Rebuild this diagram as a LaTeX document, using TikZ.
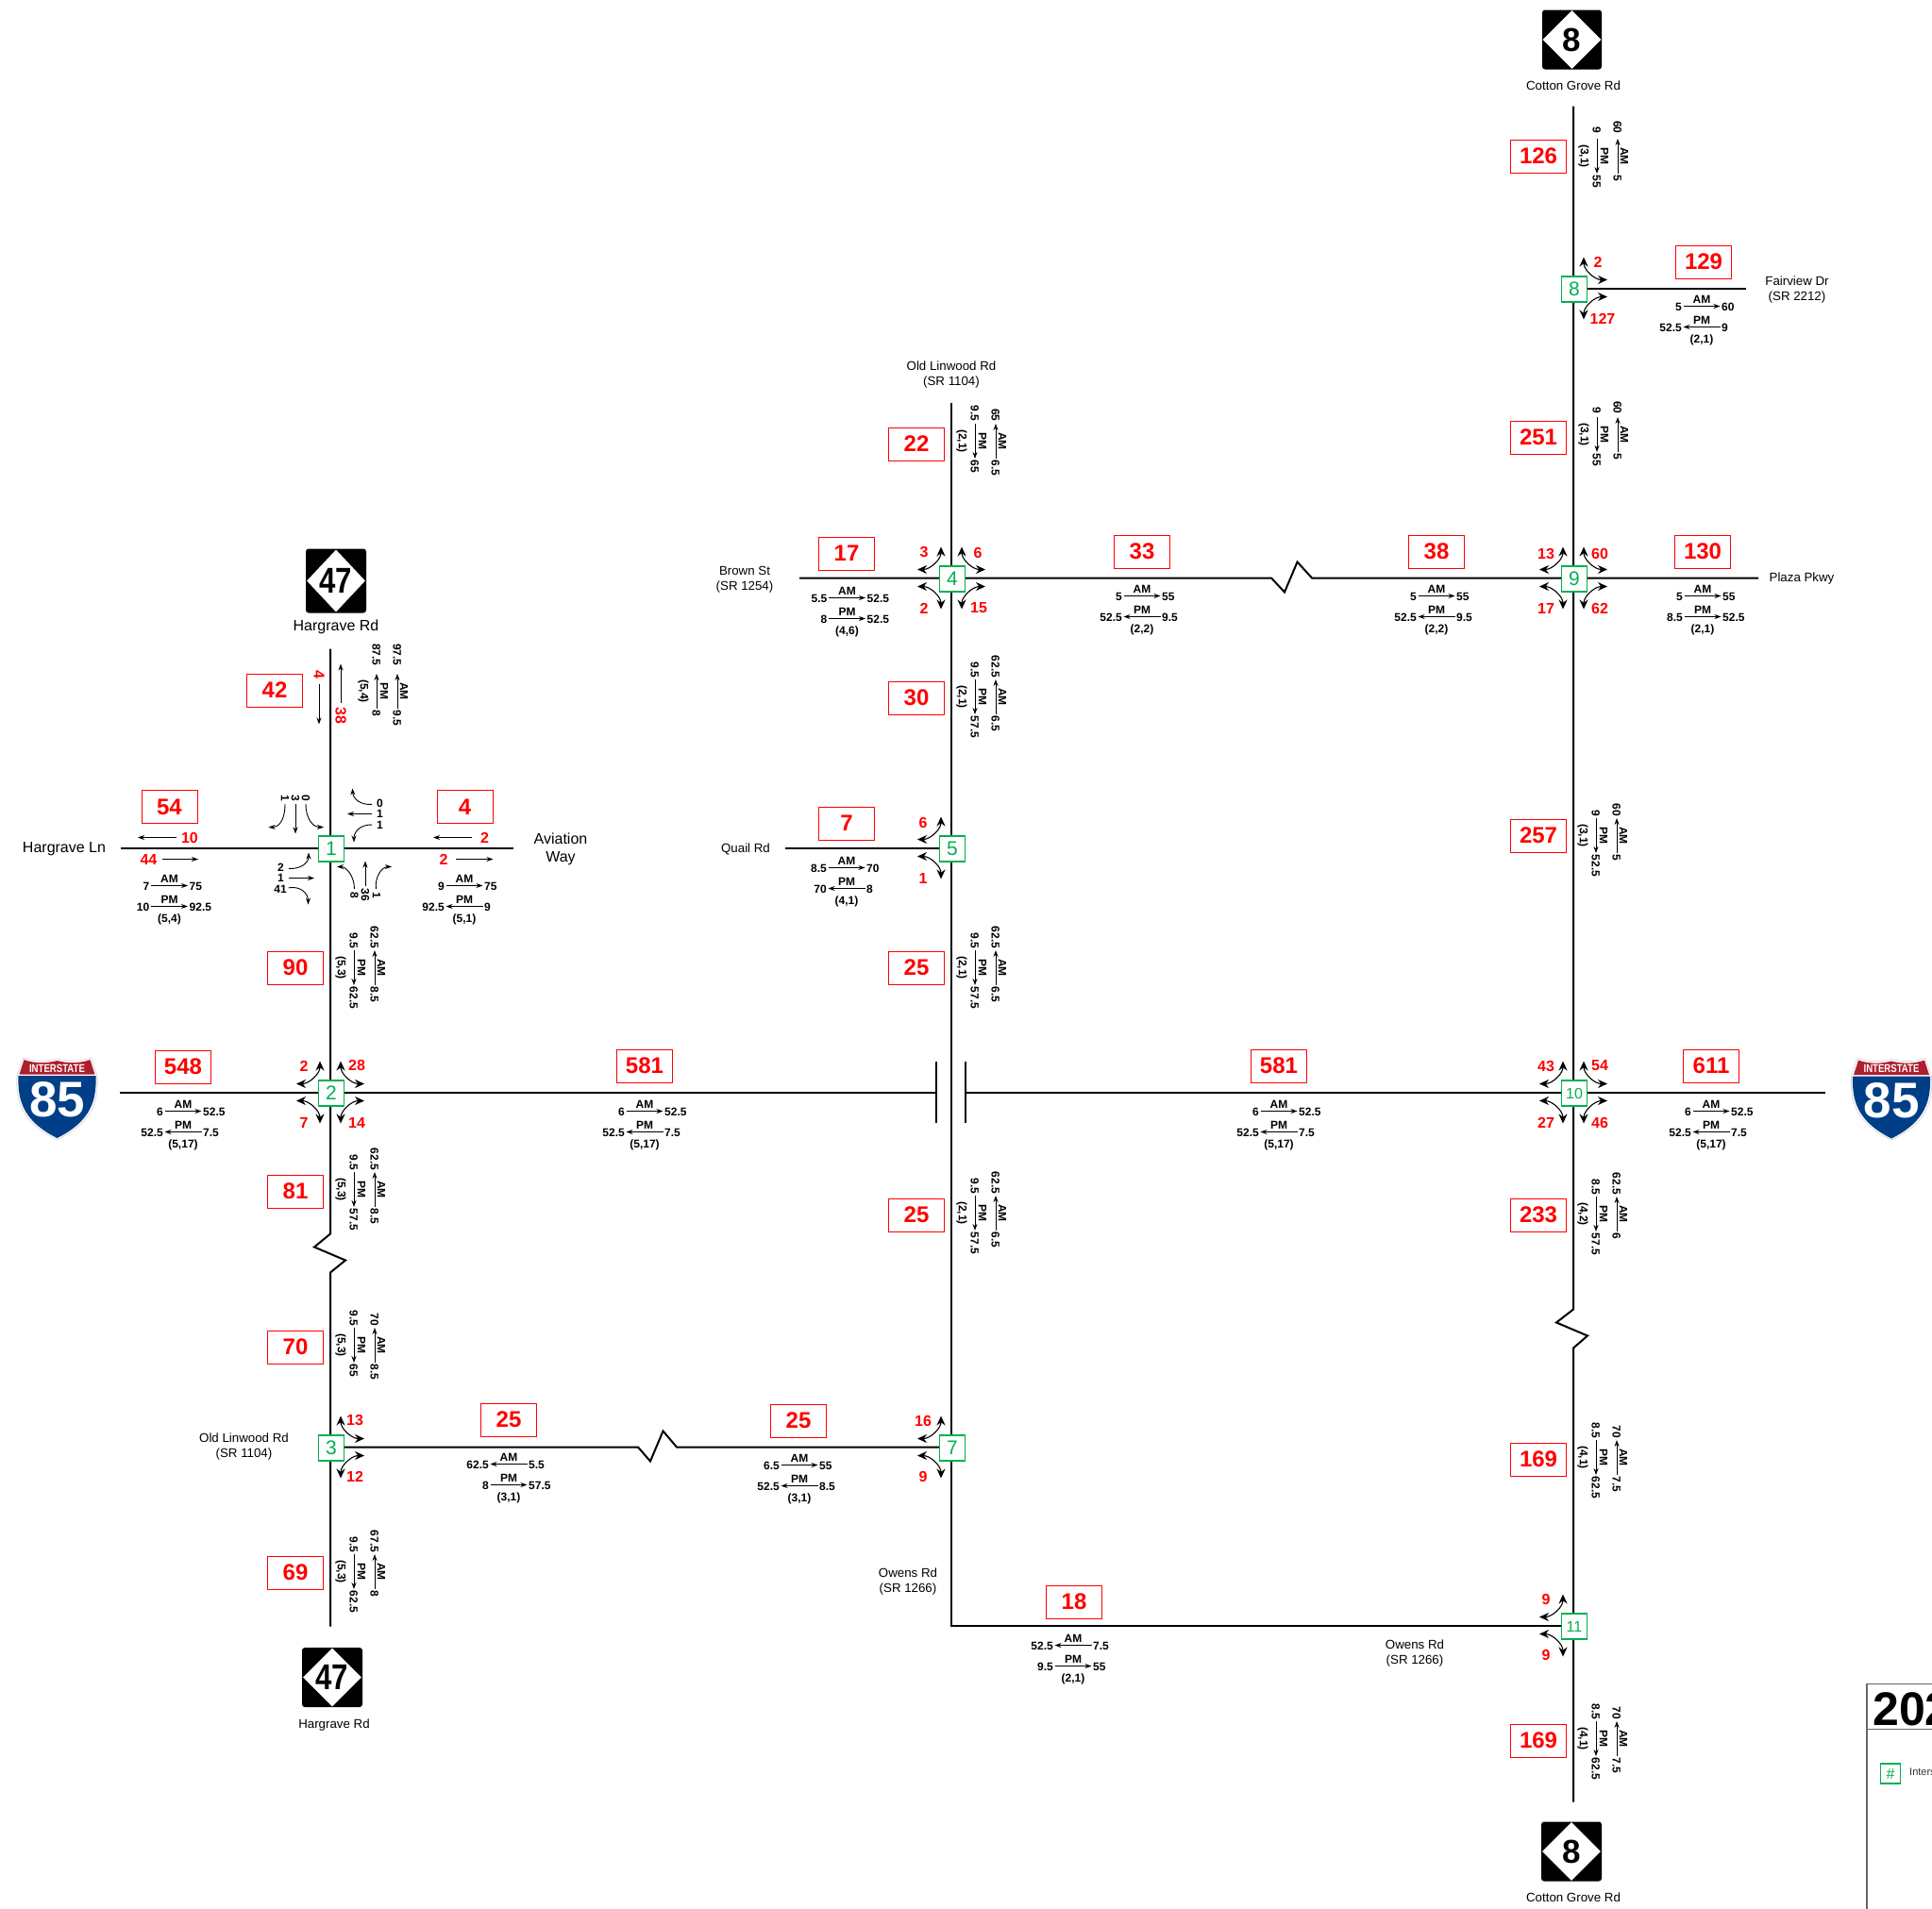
\documentclass[tikz,border=0pt]{standalone}
\usepackage{fontspec}
\setmainfont{Liberation Sans}
\usepackage{xcolor}
\usepackage{tikz}
\usetikzlibrary{arrows.meta,backgrounds,shapes.geometric}
\definecolor{cRed}{HTML}{FF0000}
\definecolor{cGreen}{HTML}{00B050}
\definecolor{cBlue}{HTML}{003F87}
\definecolor{cShield}{HTML}{AF1E2D}
\newcommand\fsz[2]{\fontsize{#1}{#2}\selectfont}
\tikzset{
  road/.style={line width=2pt, line join=miter},
  rbox/.style={draw=cRed, line width=1pt, fill=white, text=cRed, minimum width=59pt,
               minimum height=35pt, inner sep=0pt, font=\fsz{24}{26}\bfseries},
  nbox/.style={draw=cGreen, line width=1.4pt, fill=white, text=cGreen, minimum size=27pt,
               inner sep=0pt, font=\fsz{21}{23}},
  rlab/.style={text=cRed, inner sep=0pt, font=\fsz{16}{18}\bfseries},
  vnum/.style={inner sep=1.5pt, text height=9pt, text depth=0pt, font=\fsz{12}{14}\bfseries},
  vlab/.style={inner sep=0pt, font=\fsz{12}{14}\bfseries},
  vtop/.style={},
  tnum/.style={inner sep=0pt, outer sep=3pt, font=\fsz{12}{14}\bfseries},
  vol/.style={line width=.9pt, >={Stealth[length=7pt,width=5pt]}},
  mov/.style={line width=.9pt, -{Stealth[length=7pt,width=5pt]}},
  turn/.style={line width=1.1pt, {Stealth[length=10pt,width=9pt]}-{Stealth[length=10pt,width=9pt]}},
  rname/.style={align=center, inner sep=0pt, font=\fsz{13.3}{16}},
  rnameL/.style={align=center, inner sep=0pt, font=\fsz{16}{18.5}},
  hwybox/.style={fill=black, rounded corners=3pt, inner sep=0pt},
  hwydia/.style={diamond, fill=white, inner sep=0pt, font=\bfseries}
}
\newcommand\hvol[9]{%
  \begin{scope}[shift={#2}]
    \node[vlab] (#1am) at (0,-7) {AM};
    \node[vnum,anchor=east] (#1a) at (-19.5,0) {#3};
    \node[vnum,anchor=west] (#1b) at (19.5,0) {#5};
    \draw[vol,#4] (#1a) -- (#1b);
    \node[vlab] (#1pm) at (0,14.5) {PM};
    \node[vnum,anchor=east] (#1c) at (-19.5,22) {#6};
    \node[vnum,anchor=west] (#1d) at (19.5,22) {#8};
    \draw[vol,#7] (#1c) -- (#1d);
    \node[vlab] (#1ps) at (0,35.5) {#9};
  \end{scope}}
\newcommand\vvol[9]{%
  \begin{scope}[shift={#2}]
    \node[vlab,rotate=-90] (#1am) at (54,0) {AM};
    \node[vnum,vtop,rotate=-90,anchor=east] (#1a) at (47,-18.5) {#3};
    \node[vnum,rotate=-90,anchor=west] (#1b) at (47,18.5) {#5};
    \draw[vol,#4] (#1a) -- (#1b);
    \node[vlab,rotate=-90] (#1pm) at (33,0) {PM};
    \node[vnum,vtop,rotate=-90,anchor=east] (#1c) at (25,-18.5) {#6};
    \node[vnum,rotate=-90,anchor=west] (#1d) at (25,18.5) {#8};
    \draw[vol,#7] (#1c) -- (#1d);
    \node[vlab,rotate=-90] (#1ps) at (11,0) {#9};
  \end{scope}}
\newcommand\turnarc[3]{%
  \begin{scope}[shift={(#1)},xscale=#2,yscale=#3]
    \coordinate (ta) at (11,33); \coordinate (tb) at (36,9);
    \draw[turn] (ta) .. controls (11,19.5) and (22.5,9) .. (tb);
  \end{scope}}
\newcommand\ishield[2]{%
  \begin{scope}[shift={#2}]
    \fill[white,draw=black!15,line width=.8pt] (-36,-43) .. controls (-24,-39) and (-12,-39) .. (0,-42) .. controls (12,-39) and (24,-39) .. (36,-43)
      -- (42.5,-24) .. controls (44,4) and (37,26) .. (0,43.5) .. controls (-37,26) and (-44,4) .. (-42.5,-24) -- cycle;
    \fill[cBlue] (-41,-24) -- (41,-24) .. controls (42,2) and (36,24) .. (0,42) .. controls (-36,24) and (-42,2) .. (-41,-24) -- cycle;
    \fill[cShield] (-35,-41) .. controls (-24,-37) and (-12,-37) .. (0,-40) .. controls (12,-37) and (24,-37) .. (35,-41) -- (40,-25.5) -- (-40,-25.5) -- cycle;
    \node[text=white,inner sep=0pt,font=\fsz{12}{13}\bfseries] (#1t) at (0,-32) {\scalebox{.8}[1]{INTERSTATE}};
    \node[text=white,inner sep=0pt,font=\fsz{53}{55}\bfseries] (#1n) at (0,1.5) {85};
  \end{scope}}

\begin{document}
\begin{tikzpicture}[x=1pt,y=-1pt]
\path[clip,use as bounding box] (0,-.5) rectangle (2047,2021.5);
\coordinate (j1) at (350,898); \coordinate (j2) at (350,1157); \coordinate (j3) at (350,1533);
\coordinate (j4) at (1008,612); \coordinate (j5) at (1008,898); \coordinate (j7) at (1008,1533);
\coordinate (j8) at (1667,305); \coordinate (j9) at (1667,612); \coordinate (j10) at (1667,1157); \coordinate (j11) at (1667,1722);
\node[nbox] (n1) at (351,899) {1};
\node[nbox] (n2) at (351,1158) {2};
\node[nbox] (n3) at (351,1534) {3};
\node[nbox] (n4) at (1009,613) {4};
\node[nbox] (n5) at (1009,899) {5};
\node[nbox] (n7) at (1009,1534) {7};
\node[nbox] (n8) at (1668,306) {8};
\node[nbox] (n9) at (1668,613) {9};
\node[nbox,font=\fsz{16}{18}] (n10) at (1668,1158) {10};
\node[nbox,font=\fsz{16}{18}] (n11) at (1668,1723) {11};
\coordinate (aT) at (350,687); \coordinate (aB) at (350,1723);
\coordinate (aZ1) at (350,1307); \coordinate (aZ2) at (333,1321); \coordinate (aZ3) at (366,1335); \coordinate (aZ4) at (350,1348);
\coordinate (bT) at (1008,426); \coordinate (bC) at (1008,1722);
\coordinate (cT) at (1667,112); \coordinate (cB) at (1667,1909);
\coordinate (cZ1) at (1667,1387); \coordinate (cZ2) at (1649,1401); \coordinate (cZ3) at (1682,1415); \coordinate (cZ4) at (1667,1428);
\coordinate (hgW) at (128,898); \coordinate (hgE) at (544,898);
\coordinate (quW) at (832,898); \coordinate (faE) at (1850,305);
\coordinate (brW) at (847,612); \coordinate (plE) at (1863,612);
\coordinate (brZ1) at (1347,612); \coordinate (brZ2) at (1361,627); \coordinate (brZ3) at (1374.5,595); \coordinate (brZ4) at (1390,612);
\coordinate (oldZ1) at (676,1533); \coordinate (oldZ2) at (689,1548); \coordinate (oldZ3) at (702.5,1516); \coordinate (oldZ4) at (717,1533);
\coordinate (iW) at (127,1157); \coordinate (iE) at (1934,1157);
\coordinate (iL) at (992,1157); \coordinate (iR) at (1023,1157);
\coordinate (iLt) at (992,1124); \coordinate (iLb) at (992,1189); \coordinate (iRt) at (1023,1124); \coordinate (iRb) at (1023,1189);
\begin{scope}[on background layer]
\draw[road](aT)--(j1)--(j2)--(aZ1)--(aZ2)--(aZ3)--(aZ4)--(j3)--(aB);
\draw[road](bT)--(j4)--(j5)--(j7)--(bC)--(j11);
\draw[road](cT)--(j8)--(j9)--(j10)--(cZ1)--(cZ2)--(cZ3)--(cZ4)--(j11)--(cB);
\draw[road](hgW)--(j1)--(hgE);\draw[road](quW)--(j5);\draw[road](j8)--(faE);
\draw[road](brW)--(j4)--(brZ1)--(brZ2)--(brZ3)--(brZ4)--(j9)--(plE);
\draw[road](j3)--(oldZ1)--(oldZ2)--(oldZ3)--(oldZ4)--(j7);
\draw[road](iW)--(j2)--(iL);\draw[road](iR)--(j10)--(iE);
\draw[road](iLt)--(iLb);\draw[road](iRt)--(iRb);
\end{scope}
\node[rbox] (b126) at (1630,165) {126};
\node[rbox] (b129) at (1805,277) {129};
\node[rbox] (b22) at (971,470) {22};
\node[rbox] (b251) at (1630,463) {251};
\node[rbox] (b17) at (897,586) {17};
\node[rbox] (b33) at (1210,584) {33};
\node[rbox] (b38) at (1522,584) {38};
\node[rbox] (b130) at (1804,584) {130};
\node[rbox] (b30) at (971,739) {30};
\node[rbox] (b42) at (291,731) {42};
\node[rbox] (b54) at (179.5,854.5) {54};
\node[rbox] (b4) at (492.5,854.5) {4};
\node[rbox] (b7) at (897,872) {7};
\node[rbox] (b257) at (1630,885) {257};
\node[rbox] (b90) at (313,1025) {90};
\node[rbox] (b25a) at (971,1025) {25};
\node[rbox] (b548) at (194,1130) {548};
\node[rbox] (b581a) at (683,1129) {581};
\node[rbox] (b581b) at (1355,1129) {581};
\node[rbox] (b611) at (1813,1129) {611};
\node[rbox] (b81) at (313,1262) {81};
\node[rbox] (b25b) at (971,1287) {25};
\node[rbox] (b233) at (1630,1287) {233};
\node[rbox] (b70) at (313,1427) {70};
\node[rbox] (b25c) at (539,1504) {25};
\node[rbox] (b25d) at (846,1505) {25};
\node[rbox] (b169a) at (1630,1546) {169};
\node[rbox] (b18) at (1138,1697) {18};
\node[rbox] (b69) at (313,1666) {69};
\node[rbox] (b169b) at (1630,1844) {169};
\hvol{v54}{(179.5,938)}{7}{->}{75}{10}{->}{92.5}{(5,4)}
\hvol{v4}{(492,938)}{9}{->}{75}{92.5}{<-}{9}{(5,1)}
\hvol{v548}{(194,1177)}{6}{->}{52.5}{52.5}{<-}{7.5}{(5,17)}
\hvol{v581a}{(683,1177)}{6}{->}{52.5}{52.5}{<-}{7.5}{(5,17)}
\hvol{v581b}{(1355,1177)}{6}{->}{52.5}{52.5}{<-}{7.5}{(5,17)}
\hvol{v611}{(1813,1177)}{6}{->}{52.5}{52.5}{<-}{7.5}{(5,17)}
\hvol{v17}{(897.5,633)}{5.5}{->}{52.5}{8}{->}{52.5}{(4,6)}
\hvol{v33}{(1210,631)}{5}{->}{55}{52.5}{<-}{9.5}{(2,2)}
\hvol{v38}{(1522,631)}{5}{->}{55}{52.5}{<-}{9.5}{(2,2)}
\hvol{v130}{(1804,631)}{5}{->}{55}{8.5}{->}{52.5}{(2,1)}
\hvol{v129}{(1803,324)}{5}{->}{60}{52.5}{<-}{9}{(2,1)}
\hvol{v7}{(897,919)}{8.5}{->}{70}{70}{<-}{8}{(4,1)}
\hvol{v25c}{(539,1551)}{62.5}{<-}{5.5}{8}{->}{57.5}{(3,1)}
\hvol{v25d}{(847,1552)}{6.5}{->}{55}{52.5}{<-}{8.5}{(3,1)}
\hvol{v18}{(1137,1743)}{52.5}{<-}{7.5}{9.5}{->}{55}{(2,1)}
\vvol{v257}{(1666,885)}{60}{<-}{5}{9}{->}{52.5}{(3,1)}
\vvol{v233}{(1666,1286)}{62.5}{<-}{6}{8.5}{->}{57.5}{(4,2)}
\vvol{v169a}{(1666,1544)}{70}{<-}{7.5}{8.5}{->}{62.5}{(4,1)}
\vvol{v169b}{(1666,1842)}{70}{<-}{7.5}{8.5}{->}{62.5}{(4,1)}
\vvol{v30}{(1008,738)}{62.5}{<-}{6.5}{9.5}{->}{57.5}{(2,1)}
\vvol{v25a}{(1008,1025)}{62.5}{<-}{6.5}{9.5}{->}{57.5}{(2,1)}
\vvol{v25b}{(1008,1285)}{62.5}{<-}{6.5}{9.5}{->}{57.5}{(2,1)}
\vvol{v90}{(350,1025)}{62.5}{<-}{8.5}{9.5}{->}{62.5}{(5,3)}
\vvol{v81}{(350,1260)}{62.5}{<-}{8.5}{9.5}{->}{57.5}{(5,3)}
\vvol{v70}{(350,1425)}{70}{<-}{8.5}{9.5}{->}{65}{(5,3)}
\vvol{v69}{(350,1665)}{67.5}{<-}{8}{9.5}{->}{62.5}{(5,3)}
\begin{scope}[vtop/.style={outer sep=7pt}]
\vvol{v42}{(374,732)}{97.5}{<-}{9.5}{87.5}{<-}{8}{(5,4)}
\end{scope}
\begin{scope}[vtop/.style={outer sep=4pt}]
\vvol{v126}{(1667,165)}{60}{<-}{5}{9}{->}{55}{(3,1)}
\end{scope}
\begin{scope}[vtop/.style={outer sep=2pt}]
\vvol{v251}{(1667,460)}{60}{<-}{5}{9}{->}{55}{(3,1)}
\end{scope}
\begin{scope}[vtop/.style={outer sep=1pt}]
\vvol{v22}{(1008,467)}{65}{<-}{6.5}{9.5}{->}{65}{(2,1)}
\end{scope}
\turnarc{j2}{1}{-1}\turnarc{j2}{-1}{-1}\turnarc{j2}{1}{1}\turnarc{j2}{-1}{1}
\turnarc{j4}{1}{-1}\turnarc{j4}{-1}{-1}\turnarc{j4}{1}{1}\turnarc{j4}{-1}{1}
\turnarc{j9}{1}{-1}\turnarc{j9}{-1}{-1}\turnarc{j9}{1}{1}\turnarc{j9}{-1}{1}
\turnarc{j10}{1}{-1}\turnarc{j10}{-1}{-1}\turnarc{j10}{1}{1}\turnarc{j10}{-1}{1}
\turnarc{j8}{1}{-1}\turnarc{j8}{1}{1}
\turnarc{j3}{1}{-1}\turnarc{j3}{1}{1}
\turnarc{j5}{-1}{-1}\turnarc{j5}{-1}{1}
\turnarc{j7}{-1}{-1}\turnarc{j7}{-1}{1}
\turnarc{j11}{-1}{-1}\turnarc{j11}{-1}{1}
\node[rlab] (r2nw) at (322,1129) {2};
\node[rlab] (r2ne) at (378,1128) {28};
\node[rlab] (r2sw) at (322,1189) {7};
\node[rlab] (r2se) at (378,1189) {14};
\node[rlab] (r4nw) at (979,584) {3};
\node[rlab] (r4ne) at (1036,585) {6};
\node[rlab] (r4sw) at (979,644) {2};
\node[rlab] (r4se) at (1037,644) {15};
\node[rlab] (r9nw) at (1638,586) {13};
\node[rlab] (r9ne) at (1695,586) {60};
\node[rlab] (r9sw) at (1638,644) {17};
\node[rlab] (r9se) at (1695,644) {62};
\node[rlab] (r10nw) at (1638,1129) {43};
\node[rlab] (r10ne) at (1695,1129) {54};
\node[rlab] (r10sw) at (1638,1189) {27};
\node[rlab] (r10se) at (1695,1189) {46};
\node[rlab] (r8ne) at (1693,277) {2};
\node[rlab] (r8se) at (1698,337) {127};
\node[rlab] (r5nw) at (978,871) {6};
\node[rlab] (r5sw) at (978,930) {1};
\node[rlab] (r7nw) at (978,1505) {16};
\node[rlab] (r7sw) at (978,1564) {9};
\node[rlab] (r3ne) at (376,1504) {13};
\node[rlab] (r3se) at (376,1564) {12};
\node[rlab] (r11nw) at (1638,1694) {9};
\node[rlab] (r11sw) at (1638,1753) {9};
\node[rlab,outer sep=6pt,rotate=-90] (r42w) at (338,714) {4};
\node[rlab,outer sep=5pt,rotate=-90] (r42e) at (361,758) {38};
\node[rlab,outer sep=5pt] (r54n) at (201,887) {10};
\node[rlab,outer sep=6pt] (r54s) at (157.5,910) {44};
\node[rlab,outer sep=9pt] (r4n) at (513.5,887) {2};
\node[rlab,outer sep=9pt] (r4s) at (470,910) {2};
\coordinate (e42w) at (338,767); \coordinate (e42e) at (361,703);
\coordinate (e54n) at (146,887); \coordinate (e54s) at (210,910);
\coordinate (e4n) at (459,887); \coordinate (e4s) at (522.5,910);
\draw[mov](r42w)--(e42w);\draw[mov](r42e)--(e42e);\draw[mov](r54n)--(e54n);
\draw[mov](r54s)--(e54s);\draw[mov](r4n)--(e4n);\draw[mov](r4s)--(e4s);
\node[tnum,rotate=-90] (sbL) at (302,845) {1};
\node[tnum,rotate=-90] (sbT) at (313,845) {3};
\node[tnum,rotate=-90] (sbR) at (324,845) {0};
\node[tnum,outer sep=5pt] (wbU) at (402.5,851) {0};
\node[tnum,outer sep=5pt] (wbT) at (402.5,862) {1};
\node[tnum,outer sep=5pt] (wbD) at (402.5,874) {1};
\node[tnum,outer sep=5pt] (ebU) at (297.5,919) {2};
\node[tnum,outer sep=5pt] (ebT) at (297.5,930) {1};
\node[tnum,outer sep=2pt] (ebD) at (297,942) {41};
\node[tnum,rotate=-90] (nbL) at (375.5,948) {8};
\node[tnum,rotate=-90] (nbT) at (387,948) {36};
\node[tnum,rotate=-90] (nbR) at (399,948) {1};
\coordinate (sbLe) at (284.5,876); \coordinate (sbTe) at (313,883); \coordinate (sbRe) at (343,876);
\coordinate (wbUe) at (373.5,835); \coordinate (wbTe) at (368,862); \coordinate (wbDe) at (375,892);
\coordinate (ebUe) at (327,903); \coordinate (ebTe) at (333,930); \coordinate (ebDe) at (326.5,958);
\coordinate (nbLe) at (357,918); \coordinate (nbTe) at (387,912); \coordinate (nbRe) at (415,918);
\draw[mov](sbL)..controls (302,868) and (296,876)..(sbLe);\draw[mov](sbT)--(sbTe);\draw[mov](sbR)..controls (324,868) and (332,876)..(sbRe);
\draw[mov](wbU)..controls (382,853) and (374,846)..(wbUe);\draw[mov](wbT)--(wbTe);\draw[mov](wbD)..controls (383,873) and (375,880)..(wbDe);
\draw[mov](ebU)..controls (318,921) and (327,914)..(ebUe);\draw[mov](ebT)--(ebTe);\draw[mov](ebD)..controls (318,938) and (326.5,946)..(ebDe);
\draw[mov](nbL)..controls (375.5,928) and (367,918)..(nbLe);\draw[mov](nbT)--(nbTe);\draw[mov](nbR)..controls (397,928) and (405,918)..(nbRe);
\node[hwybox,minimum width=63pt,minimum height=63pt] (s8t) at (1665.5,41.5) {};
\node[hwydia,minimum width=62pt,minimum height=62pt,font=\fsz{35}{37}\bfseries] (d8t) at (1665.5,41.5) {8};
\node[hwybox,minimum width=64pt,minimum height=63pt] (s8b) at (1665,1961.5) {};
\node[hwydia,minimum width=62pt,minimum height=62pt,font=\fsz{35}{37}\bfseries] (d8b) at (1665,1961.5) {8};
\node[hwybox,minimum width=64pt,minimum height=68pt] (s47t) at (356,615) {};
\node[hwydia,minimum width=62pt,minimum height=66pt,font=\fsz{38}{40}\bfseries] (d47t) at (356,615) {\scalebox{.82}[1]{47}};
\node[hwybox,minimum width=64pt,minimum height=63pt] (s47b) at (352,1777) {};
\node[hwydia,minimum width=62pt,minimum height=62pt,font=\fsz{38}{40}\bfseries] (d47b) at (352,1777) {\scalebox{.82}[1]{47}};
\ishield{iw}{(60.5,1163.5)}
\ishield{ie}{(2004,1164)}
\node[rname] (lcgt) at (1667,90) {Cotton Grove Rd};
\node[rname] (lcgb) at (1667,2010) {Cotton Grove Rd};
\node[rname] (lfa) at (1904,307) {Fairview Dr\\(SR 2212)};
\node[rname] (lolt) at (1008,396.5) {Old Linwood Rd\\(SR 1104)};
\node[rname] (lbr) at (789,613.5) {Brown St\\(SR 1254)};
\node[rname] (lpl) at (1909,613) {Plaza Pkwy};
\node[rnameL] (lhgl) at (68,899) {Hargrave Ln};
\node[rnameL] (lav) at (594,899.5) {Aviation\\Way};
\node[rname] (lqu) at (790,899.5) {Quail Rd};
\node[rname] (lolb) at (258.5,1533) {Old Linwood Rd\\(SR 1104)};
\node[rname] (lowl) at (962,1675.5) {Owens Rd\\(SR 1266)};
\node[rname] (lowr) at (1499,1751.5) {Owens Rd\\(SR 1266)};
\node[rnameL] (lhgt) at (356,664) {Hargrave Rd};
\node[rname] (lhgb) at (354,1827.5) {Hargrave Rd};
\draw[black!60,line width=1.2pt] (1978,1784) rectangle (2200,2200);
\draw[black!60,line width=1.2pt] (1978,1832) -- (2200,1832);
\node[anchor=west,inner sep=0pt,font=\fsz{50}{52}\bfseries] (ltitle) at (1984,1811) {202};
\node[nbox,minimum size=21pt,font=\fsz{16}{18}] (lnum) at (2003,1879) {\#};
\node[anchor=west,inner sep=0pt,text=black!80,font=\fsz{11}{13}] (ltext) at (2023,1877) {Inters};
\end{tikzpicture}
\end{document}
